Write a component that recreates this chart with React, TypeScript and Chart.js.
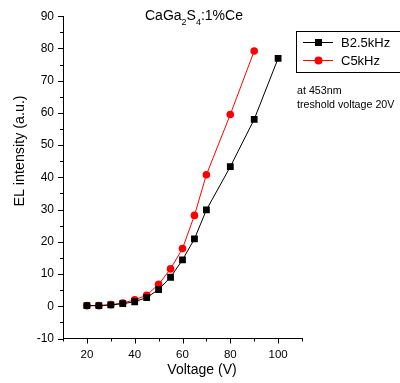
import React, { useEffect, useRef } from "react";
import { Chart, registerables } from "chart.js";

Chart.register(...registerables);

const voltagesB = [20, 25, 30, 35, 40, 45, 50, 55, 60, 65, 70, 80, 90, 100];
const intensityB = [0.2, 0.2, 0.4, 0.8, 1.4, 2.7, 5.2, 9, 14.4, 20.9, 29.9, 43.3, 58, 76.9];
const voltagesC = [20, 25, 30, 35, 40, 45, 50, 55, 60, 65, 70, 80, 90];
const intensityC = [0.2, 0.2, 0.5, 1.0, 2.0, 3.4, 6.8, 11.6, 17.9, 28.2, 40.8, 59.5, 79.2];
const seriesNames = ["B2.5kHz", "C5kHz"];
const xTickLabels = [20, 40, 60, 80, 100];
const titleParts = [
  { t: "CaGa", sub: false },
  { t: "2", sub: true },
  { t: "S", sub: false },
  { t: "4", sub: true },
  { t: ":1%Ce", sub: false },
];
const notes = ["at 453nm", "treshold voltage 20V"];
const xTitle = "Voltage (V)";
const yTitle = "EL intensity (a.u.)";

const FONT = "'Liberation Sans', Arial, sans-serif";

const decorPlugin = {
  id: "decor",
  afterDraw(chart: any) {
    const ctx = chart.ctx;
    const xs = chart.scales.x;
    const ys = chart.scales.y;
    const area = chart.chartArea;
    ctx.save();
    ctx.strokeStyle = "#000";
    ctx.lineWidth = 1;
    // x ticks
    for (let v = 10; v <= 110; v += 10) {
      const px = Math.round(xs.getPixelForValue(v)) + 0.5;
      const len = v % 20 === 0 ? 5 : 3;
      ctx.beginPath();
      ctx.moveTo(px, area.bottom);
      ctx.lineTo(px, area.bottom + len);
      ctx.stroke();
    }
    // y ticks
    for (let v = -10; v <= 90; v += 5) {
      const py = Math.round(ys.getPixelForValue(v)) + 0.5;
      const len = v % 10 === 0 ? 5 : 3;
      ctx.beginPath();
      ctx.moveTo(area.left, py);
      ctx.lineTo(area.left - len, py);
      ctx.stroke();
    }
    // title
    ctx.fillStyle = "#000";
    ctx.textAlign = "left";
    ctx.textBaseline = "alphabetic";
    let tx = 145;
    for (const p of titleParts) {
      ctx.font = (p.sub ? "9px " : "14px ") + FONT;
      ctx.fillText(p.t, tx, p.sub ? 24.5 : 20);
      tx += ctx.measureText(p.t).width;
    }
    // axis titles
    ctx.font = "14px " + FONT;
    ctx.textAlign = "center";
    ctx.textBaseline = "middle";
    ctx.fillText(xTitle, 202, 370);
    ctx.save();
    ctx.translate(20, 151);
    ctx.rotate(-Math.PI / 2);
    ctx.font = "14.3px " + FONT;
    ctx.fillText(yTitle, 0, 0);
    ctx.restore();
    // legend
    ctx.strokeStyle = "#000";
    ctx.lineWidth = 1;
    ctx.strokeRect(296.5, 31.5, 120, 41);
    const colors = ["#000000", "#ff0000"];
    const ly = [42, 60];
    for (let i = 0; i < 2; i++) {
      ctx.strokeStyle = colors[i];
      ctx.fillStyle = colors[i];
      ctx.beginPath();
      ctx.moveTo(303, ly[i] + 0.5);
      ctx.lineTo(333, ly[i] + 0.5);
      ctx.stroke();
      if (i === 0) {
        ctx.fillRect(315, ly[i] - 3, 7, 7);
      } else {
        ctx.beginPath();
        ctx.arc(318.5, ly[i] + 0.5, 4, 0, Math.PI * 2);
        ctx.fill();
      }
      ctx.fillStyle = "#000";
      ctx.font = "13px " + FONT;
      ctx.textAlign = "left";
      ctx.textBaseline = "middle";
      ctx.fillText(seriesNames[i], 341, ly[i] + 1);
    }
    // notes
    ctx.font = "10.7px " + FONT;
    ctx.fillText(notes[0], 297, 91.5);
    ctx.fillText(notes[1], 297, 105.5);
    ctx.restore();
  },
};

export default function App() {
  const ref = useRef<HTMLCanvasElement>(null);
  useEffect(() => {
    const chart = new Chart(ref.current as HTMLCanvasElement, {
      type: "scatter",
      data: {
        datasets: [
          {
            label: seriesNames[0],
            data: voltagesB.map((x, i) => ({ x, y: intensityB[i] })),
            showLine: true,
            borderColor: "#000000",
            backgroundColor: "#000000",
            borderWidth: 1,
            pointStyle: "rect",
            pointRadius: 4.8,
            pointBorderWidth: 0,
          },
          {
            label: seriesNames[1],
            data: voltagesC.map((x, i) => ({ x, y: intensityC[i] })),
            showLine: true,
            borderColor: "#ff0000",
            backgroundColor: "#ff0000",
            borderWidth: 1,
            pointStyle: "circle",
            pointRadius: 3.8,
            pointBorderWidth: 0,
          },
        ],
      },
      options: {
        responsive: false,
        animation: false,
        layout: { padding: { top: 11, right: 98, left: 0, bottom: 0 } },
        plugins: { legend: { display: false }, tooltip: { enabled: false }, title: { display: false } },
        scales: {
          x: {
            type: "linear",
            min: 10,
            max: 110,
            afterFit: (s: any) => { s.height = 44.5; },
            grid: { display: false, drawTicks: false },
            border: { display: true, color: "#000", width: 1 },
            ticks: {
              stepSize: 10,
              autoSkip: false,
              maxRotation: 0,
              padding: 9,
              color: "#000",
              font: { family: FONT, size: 11.5 },
              callback: (v: any) => (xTickLabels.includes(Number(v)) ? String(v) : ""),
            },
          },
          y: {
            type: "linear",
            min: -10,
            max: 90,
            afterFit: (s: any) => { s.width = 63; },
            grid: { display: false, drawTicks: false },
            border: { display: true, color: "#000", width: 1 },
            ticks: {
              stepSize: 10,
              autoSkip: false,
              padding: 9,
              color: "#000",
              font: { family: FONT, size: 12 },
            },
          },
        },
      },
      plugins: [decorPlugin],
    } as any);
    return () => chart.destroy();
  }, []);
  return (
    <div style={{ position: "absolute", left: 0, top: 0, width: 400, height: 383, background: "#fff" }}>
      <canvas ref={ref} width={400} height={383} />
    </div>
  );
}
